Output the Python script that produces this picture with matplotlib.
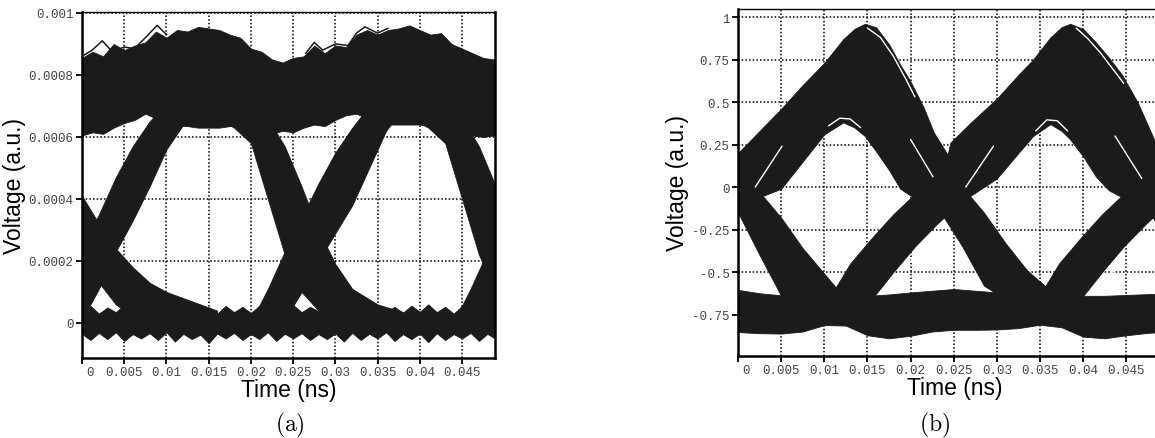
import numpy as np
import matplotlib
matplotlib.use("Agg")
import matplotlib.pyplot as plt
import matplotlib.transforms as mtransforms

plt.rcParams["mathtext.fontset"] = "cm"

INK = "#1b1b1b"
A_UNIT = 1e-4  # panel (a) values are written in units of 1e-4

# ---------------- panel (a) ----------------
a_xticks = [0, 0.005, 0.01, 0.015, 0.02, 0.025, 0.03, 0.035, 0.04, 0.045]
a_xticklabels = ["0", "0.005", "0.01", "0.015", "0.02", "0.025", "0.03", "0.035", "0.04", "0.045"]
a_yticks = [0, 0.0002, 0.0004, 0.0006, 0.0008, 0.001]
a_yticklabels = ["0", "0.0002", "0.0004", "0.0006", "0.0008", "0.001"]

# "one" level band (jagged edges)
a_high_t = [0, 0.00125, 0.0025, 0.00375, 0.005, 0.00625, 0.0075, 0.00875, 0.01, 0.01125,
            0.0125, 0.01375, 0.015, 0.01625, 0.0175, 0.01875, 0.02, 0.02125, 0.0225, 0.02375,
            0.025, 0.02625, 0.0275, 0.02875, 0.03, 0.03125, 0.0325, 0.03375, 0.035, 0.03625,
            0.0375, 0.03875, 0.04, 0.04125, 0.0425, 0.04375, 0.045, 0.04625, 0.0475, 0.04875, 0.05]
a_high_top = [8.55, 8.75, 8.6, 9.0, 8.8, 8.95, 9.05, 9.4, 9.2, 9.45,
              9.4, 9.55, 9.5, 9.45, 9.3, 9.2, 8.85, 8.75, 8.5, 8.4,
              8.55, 8.6, 8.95, 8.7, 8.95, 8.9, 9.3, 9.45, 9.3, 9.45,
              9.5, 9.6, 9.45, 9.3, 9.35, 9.0, 8.85, 8.7, 8.55, 8.5, 8.45]
a_high_bot = [6.05, 6.15, 6.1, 6.3, 6.45, 6.55, 6.75, 6.6, 6.45, 6.35,
              6.35, 6.3, 6.3, 6.3, 6.35, 6.4, 6.35, 6.2, 6.1, 6.2,
              6.15, 6.3, 6.4, 6.35, 6.55, 6.7, 6.75, 6.6, 6.5, 6.4,
              6.4, 6.4, 6.4, 6.35, 6.3, 6.2, 6.1, 6.05, 6.0, 6.05, 6.0]

# "zero" level band (jagged edges)
a_low_t = [0, 0.001, 0.002, 0.003, 0.004, 0.005, 0.006, 0.007, 0.008, 0.009,
           0.01, 0.011, 0.012, 0.013, 0.014, 0.015, 0.016, 0.017, 0.018, 0.019,
           0.02, 0.021, 0.022, 0.023, 0.024, 0.025, 0.026, 0.027, 0.028, 0.029,
           0.03, 0.031, 0.032, 0.033, 0.034, 0.035, 0.036, 0.037, 0.038, 0.039,
           0.04, 0.041, 0.042, 0.043, 0.044, 0.045, 0.046, 0.047, 0.048, 0.049, 0.05]
a_low_top = [0.4, 0.55, 0.3, 0.5, 0.35, 0.58, 0.32, 0.5, 0.38, 0.55,
             0.33, 0.52, 0.36, 0.6, 0.34, 0.5, 0.3, 0.55, 0.35, 0.52,
             0.32, 0.56, 0.36, 0.5, 0.33, 0.58, 0.35, 0.52, 0.38, 0.62,
             0.34, 0.55, 0.36, 0.5, 0.32, 0.54, 0.35, 0.52, 0.33, 0.56,
             0.36, 0.6, 0.35, 0.52, 0.3, 0.55, 0.36, 0.5, 0.33, 0.56, 0.4]
a_low_bot = [-0.35, -0.55, -0.32, -0.52, -0.3, -0.58, -0.36, -0.5, -0.33, -0.55,
             -0.3, -0.6, -0.35, -0.52, -0.38, -0.65, -0.34, -0.5, -0.32, -0.55,
             -0.36, -0.52, -0.3, -0.58, -0.35, -0.5, -0.33, -0.55, -0.36, -0.52,
             -0.34, -0.6, -0.32, -0.55, -0.35, -0.5, -0.3, -0.58, -0.36, -0.52,
             -0.34, -0.62, -0.33, -0.55, -0.36, -0.5, -0.32, -0.58, -0.35, -0.52, -0.34]

# transition arms: time, upper edge, lower edge
a_fall0_t = [-0.004, -0.002, 0.0, 0.002, 0.004, 0.006, 0.008, 0.010, 0.013, 0.016]
a_fall0_hi = [6.0, 5.0, 4.1, 3.2, 2.4, 1.8, 1.3, 1.0, 0.7, 0.4]
a_fall0_lo = [3.5, 2.7, 2.0, 1.3, 0.6, 0.2, 0.0, 0.0, 0.1, 0.3]

a_rise1_t = [-0.002, 0.0, 0.002, 0.004, 0.006, 0.008, 0.010, 0.012, 0.014]
a_rise1_hi = [1.2, 2.4, 3.5, 4.7, 5.7, 6.5, 7.1, 7.5, 7.7]
a_rise1_lo = [0.0, 0.1, 1.1, 2.3, 3.3, 4.4, 5.6, 6.4, 6.9]

a_fall1_t = [0.016, 0.018, 0.020, 0.022, 0.024, 0.026, 0.028, 0.030, 0.032, 0.035, 0.038]
a_fall1_hi = [7.7, 7.5, 7.2, 6.6, 5.7, 4.4, 3.0, 1.9, 1.1, 0.6, 0.35]
a_fall1_lo = [6.6, 6.3, 5.8, 4.0, 2.2, 1.0, 0.4, 0.1, 0.0, 0.1, 0.25]

a_rise2_t = [0.0205, 0.022, 0.024, 0.026, 0.028, 0.030, 0.032, 0.034, 0.036, 0.038]
a_rise2_hi = [0.3, 1.1, 2.3, 3.4, 4.5, 5.5, 6.3, 7.0, 7.4, 7.7]
a_rise2_lo = [0.25, 0.0, 0.1, 1.0, 2.0, 2.9, 3.8, 5.0, 6.2, 6.9]

a_fall2_t = [0.039, 0.041, 0.043, 0.045, 0.047, 0.049, 0.051]
a_fall2_hi = [7.7, 7.5, 7.2, 6.6, 5.7, 4.4, 3.0]
a_fall2_lo = [6.6, 6.3, 5.8, 4.0, 2.2, 1.0, 0.4]

a_rise3_t = [0.0445, 0.046, 0.048, 0.050, 0.052]
a_rise3_hi = [0.3, 1.1, 2.3, 3.4, 4.5]
a_rise3_lo = [0.25, 0.0, 0.1, 1.0, 2.0]

# a few stray traces poking out of the "one" band
a_stray1_t = [0.0, 0.0012, 0.0024, 0.0036, 0.005, 0.0062, 0.0075, 0.0089, 0.01]
a_stray1_v = [8.6, 8.8, 9.1, 8.75, 8.9, 8.85, 9.2, 9.6, 9.3]
a_stray2_t = [0.0265, 0.0275, 0.0285, 0.03, 0.0315, 0.0325, 0.0335, 0.035, 0.0362]
a_stray2_v = [8.7, 9.05, 8.8, 9.0, 8.95, 9.35, 9.55, 9.35, 9.5]

# ---------------- panel (b) ----------------
b_xticks = a_xticks
b_xticklabels = a_xticklabels
b_yticks = [-0.75, -0.5, -0.25, 0, 0.25, 0.5, 0.75, 1]
b_yticklabels = ["-0.75", "-0.5", "-0.25", "0", "0.25", "0.5", "0.75", "1"]

b_arch1_t = [0, 0.0025, 0.005, 0.0075, 0.01, 0.0122, 0.0135, 0.0147, 0.016, 0.0175,
             0.0188, 0.02, 0.0215, 0.0227, 0.0243]
b_arch1_hi = [0.2, 0.33, 0.46, 0.6, 0.73, 0.87, 0.93, 0.96, 0.94, 0.84,
              0.72, 0.62, 0.47, 0.32, 0.19]
b_arch1_lo = [-0.1, -0.06, -0.01, 0.15, 0.31, 0.38, 0.35, 0.3, 0.21, 0.1,
              -0.01, -0.05, -0.08, -0.1, -0.12]

b_arch2_t = [0.0243, 0.0246, 0.027, 0.03, 0.0325, 0.0342, 0.0362, 0.0375, 0.0385, 0.04,
             0.0415, 0.043, 0.0445, 0.0463, 0.0484, 0.0505]
b_arch2_hi = [0.19, 0.26, 0.38, 0.52, 0.66, 0.75, 0.88, 0.94, 0.96, 0.93,
              0.85, 0.76, 0.66, 0.5, 0.26, 0.08]
b_arch2_lo = [-0.12, -0.1, -0.05, 0.05, 0.2, 0.3, 0.37, 0.33, 0.28, 0.18,
              0.06, -0.02, -0.06, -0.09, -0.12, -0.15]

b_fall0_t = [0, 0.0025, 0.005, 0.0075, 0.01, 0.0125]
b_fall0_hi = [0.1, -0.03, -0.18, -0.36, -0.51, -0.66]
b_fall0_lo = [-0.15, -0.4, -0.64, -0.68, -0.7, -0.7]

b_rise1_t = [0.0105, 0.013, 0.0155, 0.018, 0.0205, 0.023, 0.0245]
b_rise1_hi = [-0.66, -0.45, -0.3, -0.16, -0.04, 0.1, 0.2]
b_rise1_lo = [-0.7, -0.7, -0.66, -0.5, -0.35, -0.22, -0.15]

b_fall1_t = [0.0235, 0.026, 0.0285, 0.031, 0.0335, 0.036, 0.038]
b_fall1_hi = [0.15, 0.0, -0.15, -0.33, -0.49, -0.6, -0.67]
b_fall1_lo = [-0.15, -0.35, -0.58, -0.66, -0.7, -0.7, -0.7]

b_rise2_t = [0.0347, 0.0372, 0.0397, 0.0422, 0.0447, 0.0472, 0.0487]
b_rise2_hi = [-0.66, -0.45, -0.3, -0.16, -0.04, 0.1, 0.2]
b_rise2_lo = [-0.7, -0.7, -0.66, -0.5, -0.35, -0.22, -0.15]

b_fall2_t = [0.0477, 0.0502, 0.0527]
b_fall2_hi = [0.15, 0.0, -0.15]
b_fall2_lo = [-0.15, -0.35, -0.58]

b_low_t = [0, 0.0025, 0.005, 0.0075, 0.01, 0.0125, 0.015, 0.0175, 0.02, 0.0225, 0.025,
           0.0275, 0.03, 0.0325, 0.035, 0.0375, 0.04, 0.0425, 0.045, 0.0475, 0.05]
b_low_top = [-0.605, -0.625, -0.637, -0.645, -0.65, -0.645, -0.64, -0.632, -0.62, -0.61, -0.6,
             -0.61, -0.62, -0.635, -0.645, -0.645, -0.64, -0.64, -0.635, -0.63, -0.625]
b_low_bot = [-0.853, -0.86, -0.862, -0.85, -0.812, -0.815, -0.872, -0.89, -0.875, -0.85, -0.84,
             -0.84, -0.838, -0.83, -0.81, -0.825, -0.88, -0.89, -0.872, -0.858, -0.85]

# thin white gaps between groups of traces
b_gaps = [
    ([0.0020, 0.0051], [0.0, 0.24]),
    ([0.0200, 0.0226], [0.28, 0.06]),
    ([0.0264, 0.0296], [0.0, 0.24]),
    ([0.0437, 0.0468], [0.3, 0.05]),
    ([0.0170, 0.0203], [-0.62, -0.42]),
    ([0.0414, 0.0446], [-0.63, -0.42]),
    ([0.0150, 0.0165, 0.018, 0.0195, 0.0205], [0.935, 0.88, 0.77, 0.63, 0.53]),
    ([0.0392, 0.0405, 0.042, 0.0435, 0.0447], [0.935, 0.875, 0.79, 0.69, 0.61]),
    ([0.0105, 0.0118, 0.013, 0.0142], [0.36, 0.405, 0.4, 0.35]),
    ([0.0345, 0.0358, 0.037, 0.0382], [0.33, 0.395, 0.39, 0.33]),
]


def band(ax, t, hi, lo, scale=1.0):
    ax.fill_between(t, np.asarray(lo) * scale, np.asarray(hi) * scale,
                    color=INK, ec=INK, lw=0.6, zorder=2)


def style_axes(ax, xticks, xlabels, yticks, ylabels):
    ax.set_xticks(xticks)
    ax.set_xticklabels(xlabels)
    ax.set_yticks(yticks)
    ax.set_yticklabels(ylabels)
    ax.set_axisbelow(True)
    ax.grid(True, color="black", linestyle=(0, (1, 1.4)), linewidth=1.1)
    ax.tick_params(direction="out", length=4, width=1.3, pad=2, colors="black",
                   labelcolor="#454545", labelsize=9)
    for lab in ax.get_xticklabels() + ax.get_yticklabels():
        lab.set_family("Liberation Mono")
    # the "0" under the origin sits a little to the right of its tick
    first = ax.get_xticklabels()[0]
    first.set_transform(first.get_transform() +
                        mtransforms.ScaledTranslation(6 / 72, 0, fig.dpi_scale_trans))
    for side in ["left", "bottom", "right"]:
        ax.spines[side].set_linewidth(1.8)
    ax.spines["top"].set_linewidth(1.0)
    ax.set_xlabel("Time (ns)", fontsize=16.5, family="Liberation Sans", labelpad=0)
    ax.set_ylabel("Voltage (a.u.)", fontsize=16.5, family="Liberation Sans", labelpad=2)


fig = plt.figure(figsize=(11.55, 4.39), dpi=100)

# ---- (a)
ax = fig.add_axes([82 / 1155, 80 / 439, 413 / 1155, 346 / 439])
ax.set_xlim(0, 0.0489)
ax.set_ylim(-0.000113, 0.001003)
band(ax, a_high_t, a_high_top, a_high_bot, A_UNIT)
band(ax, a_low_t, a_low_top, a_low_bot, A_UNIT)
for t, hi, lo in [(a_fall0_t, a_fall0_hi, a_fall0_lo), (a_rise1_t, a_rise1_hi, a_rise1_lo),
                  (a_fall1_t, a_fall1_hi, a_fall1_lo), (a_rise2_t, a_rise2_hi, a_rise2_lo),
                  (a_fall2_t, a_fall2_hi, a_fall2_lo), (a_rise3_t, a_rise3_hi, a_rise3_lo)]:
    band(ax, t, hi, lo, A_UNIT)
for t, v in [(a_stray1_t, a_stray1_v), (a_stray2_t, a_stray2_v)]:
    ax.plot(t, np.asarray(v) * A_UNIT, color=INK, lw=1.1, zorder=3)
style_axes(ax, a_xticks, a_xticklabels, a_yticks, a_yticklabels)
fig.text(290 / 1155, 1 - 425 / 439, r"$\mathrm{(a)}$", fontsize=17, ha="center", va="center")

# ---- (b)
ax = fig.add_axes([738 / 1155, 82 / 439, 434 / 1155, 347.5 / 439])
ax.set_xlim(0, 0.0503)
ax.set_ylim(-0.994, 1.05)
band(ax, b_low_t, b_low_top, b_low_bot)
for t, hi, lo in [(b_arch1_t, b_arch1_hi, b_arch1_lo), (b_arch2_t, b_arch2_hi, b_arch2_lo),
                  (b_fall0_t, b_fall0_hi, b_fall0_lo), (b_rise1_t, b_rise1_hi, b_rise1_lo),
                  (b_fall1_t, b_fall1_hi, b_fall1_lo), (b_rise2_t, b_rise2_hi, b_rise2_lo),
                  (b_fall2_t, b_fall2_hi, b_fall2_lo)]:
    band(ax, t, hi, lo)
for t, v in b_gaps:
    ax.plot(t, v, color="white", lw=1.0, solid_capstyle="round", zorder=3)
style_axes(ax, b_xticks, b_xticklabels, b_yticks, b_yticklabels)
fig.text(935 / 1155, 1 - 425 / 439, r"$\mathrm{(b)}$", fontsize=17, ha="center", va="center")

fig.savefig("out.png", dpi=100)
